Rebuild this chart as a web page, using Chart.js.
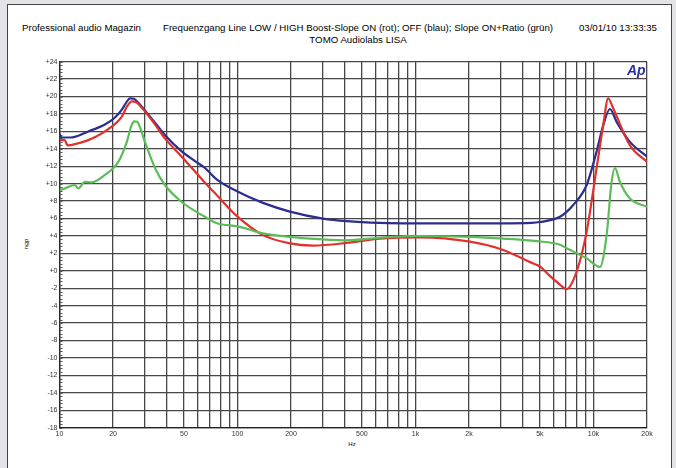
<!DOCTYPE html>
<html>
<head>
<meta charset="utf-8">
<script src="https://cdn.jsdelivr.net/npm/chart.js@4.4.1/dist/chart.umd.min.js"></script>
<style>
  body { margin: 0; width: 676px; height: 468px; overflow: hidden; position: relative; background: #e4e4e8; font-family: "Liberation Sans", Arial, sans-serif; }
  #panel { position: absolute; left: 7px; top: 4px; width: 663px; height: 470px; background: #fff; border: 1px solid #444; }
  .t { position: absolute; font-size: 9.7px; color: #000; white-space: nowrap; line-height: 1; }
  #chart { position: absolute; left: 0; top: 0; }
</style>
</head>
<body>
<div id="panel"></div>
<div class="t" style="left:22px;top:23px;">Professional audio Magazin</div>
<div class="t" style="left:358px;top:23px;transform:translateX(-50%);">Frequenzgang Line LOW / HIGH Boost-Slope ON (rot); OFF (blau); Slope ON+Ratio (grün)</div>
<div class="t" style="left:358px;top:35px;transform:translateX(-50%);">TOMO Audiolabs LISA</div>
<div class="t" style="right:19px;top:23px;">03/01/10 13:33:35</div>
<div class="t" style="left:27px;top:244px;font-size:6px;transform:translate(-50%,-50%) rotate(90deg);">dBu</div>
<div class="t" style="left:352px;top:441px;font-size:6px;transform:translateX(-50%);">Hz</div>
<div class="t" style="left:627px;top:63px;font-size:14px;font-weight:bold;font-style:italic;color:#2c2fa6;z-index:2;">Ap</div>
<canvas id="chart" width="676" height="468"></canvas>
<script>
// frequencies (Hz) and levels (dB)
const redFreq = [10, 10.7, 11.0, 11.2, 12.5, 14.5, 18, 22.4, 24, 25.5, 27, 28.5, 30.2, 34.4, 39.1, 48.6, 57.7, 65.7, 76.4, 99, 139, 197, 265, 411, 632, 1060, 2024, 3113, 4400, 5000, 5700, 6500, 7070, 8045, 9160, 10420, 11350, 12100, 12910, 16040, 20000];
const redDb = [15.0, 15.0, 14.5, 14.4, 14.6, 15.0, 16.0, 17.7, 18.9, 19.45, 19.35, 18.9, 18.3, 16.8, 15.2, 13.1, 11.4, 10.1, 8.7, 6.3, 4.1, 3.15, 2.9, 3.2, 3.7, 3.85, 3.35, 2.4, 1.0, 0.5, -0.6, -1.6, -2.1, -0.1, 4.5, 11.8, 16.7, 19.8, 18.65, 14.4, 12.5];

const blueFreq = [10, 10.3, 11.5, 14.5, 18, 20.5, 22.4, 23.7, 24.9, 26.2, 28, 30.2, 34.4, 39.1, 48.6, 57.7, 65.7, 76.4, 100, 139, 197, 302, 411, 632, 1000, 2000, 3000, 4500, 5000, 6486, 7700, 9160, 10420, 11350, 12380, 13500, 16040, 20000];
const blueDb = [15.7, 15.3, 15.3, 16.0, 16.8, 17.6, 18.5, 19.3, 19.8, 19.75, 19.2, 18.4, 17.0, 15.6, 13.7, 12.6, 11.8, 10.5, 9.1, 7.8, 6.8, 6.0, 5.7, 5.5, 5.45, 5.45, 5.45, 5.5, 5.6, 6.2, 7.55, 9.85, 13.7, 16.7, 18.57, 17.1, 14.8, 13.1];

const greenFreq = [10, 10.7, 12.2, 12.75, 13.9, 15.2, 18, 21.4, 23.9, 25.3, 26.3, 27.3, 28.3, 30.2, 34.4, 39.1, 48.6, 65.7, 76, 103, 139, 197, 302, 411, 632, 1060, 2024, 3113, 4800, 6486, 7067, 9162, 10880, 11860, 12650, 13210, 14090, 16040, 20000];
const greenDb = [9.25, 9.45, 9.85, 9.45, 10.2, 10.15, 11.0, 12.5, 14.8, 16.6, 17.15, 17.1, 16.5, 14.8, 11.8, 9.85, 7.9, 6.2, 5.5, 5.05, 4.3, 3.9, 3.6, 3.5, 3.8, 4.0, 3.9, 3.7, 3.4, 3.0, 2.6, 1.43, 0.45, 4.1, 10.2, 11.8, 10.2, 8.3, 7.35];

// axis grid and labels
const gridFreqs = [10, 20, 30, 40, 50, 60, 70, 80, 90, 100, 200, 300, 400, 500, 600, 700, 800, 900, 1000, 2000, 3000, 4000, 5000, 6000, 7000, 8000, 9000, 10000, 20000];
const xLabels = { 10: "10", 20: "20", 50: "50", 100: "100", 200: "200", 500: "500", 1000: "1k", 2000: "2k", 5000: "5k", 10000: "10k", 20000: "20k" };
const yMin = -18;
const yMax = 24;

function points(freq, db) {
  return freq.map((f, i) => ({ x: f, y: db[i] }));
}

const minorTicks = {
  id: "minorTicks",
  beforeDatasetsDraw(chart) {
    const ctx = chart.ctx;
    const y = chart.scales.y;
    const left = chart.chartArea.left;
    ctx.save();
    ctx.strokeStyle = "#555";
    ctx.lineWidth = 1;
    ctx.beginPath();
    for (let v = yMin; v <= yMax; v += 0.4) {
      const py = Math.round(y.getPixelForValue(v)) + 0.5;
      ctx.moveTo(left, py);
      ctx.lineTo(left + 3, py);
    }
    ctx.stroke();
    ctx.restore();
  }
};

const font = { family: "'Liberation Sans', Arial, sans-serif", size: 7 };

new Chart(document.getElementById("chart").getContext("2d"), {
  type: "line",
  data: {
    datasets: [
      { label: "grün", data: points(greenFreq, greenDb), borderColor: "#5cbc5a" },
      { label: "rot", data: points(redFreq, redDb), borderColor: "#e2302c" },
      { label: "blau", data: points(blueFreq, blueDb), borderColor: "#2d2d8e" }
    ]
  },
  options: {
    responsive: false,
    animation: false,
    datasets: {
      line: { borderWidth: 2.2, pointRadius: 0, fill: false, cubicInterpolationMode: "monotone" }
    },
    layout: { padding: { left: 0, right: 29, top: 61.7, bottom: 0 } },
    plugins: { legend: { display: false }, tooltip: { enabled: false } },
    scales: {
      x: {
        type: "logarithmic",
        min: 10,
        max: 20000,
        afterBuildTicks: (s) => { s.ticks = gridFreqs.map((v) => ({ value: v })); },
        afterFit: (s) => { s.height = 40.3; },
        ticks: {
          autoSkip: false,
          maxRotation: 0,
          padding: 2,
          color: "#333",
          font: font,
          callback: (v) => xLabels[v] || ""
        },
        grid: { color: "#474747", lineWidth: 1.3, drawTicks: false },
        border: { color: "#222", width: 1.3 }
      },
      y: {
        min: yMin,
        max: yMax,
        afterFit: (s) => { s.width = 59.5; },
        ticks: {
          stepSize: 2,
          padding: 2,
          color: "#333",
          font: font,
          callback: (v) => (v >= 0 ? "+" + v : "" + v)
        },
        grid: { color: "#474747", lineWidth: 1.3, drawTicks: false },
        border: { color: "#222", width: 1.3 }
      }
    }
  },
  plugins: [minorTicks]
});
</script>
</body>
</html>
